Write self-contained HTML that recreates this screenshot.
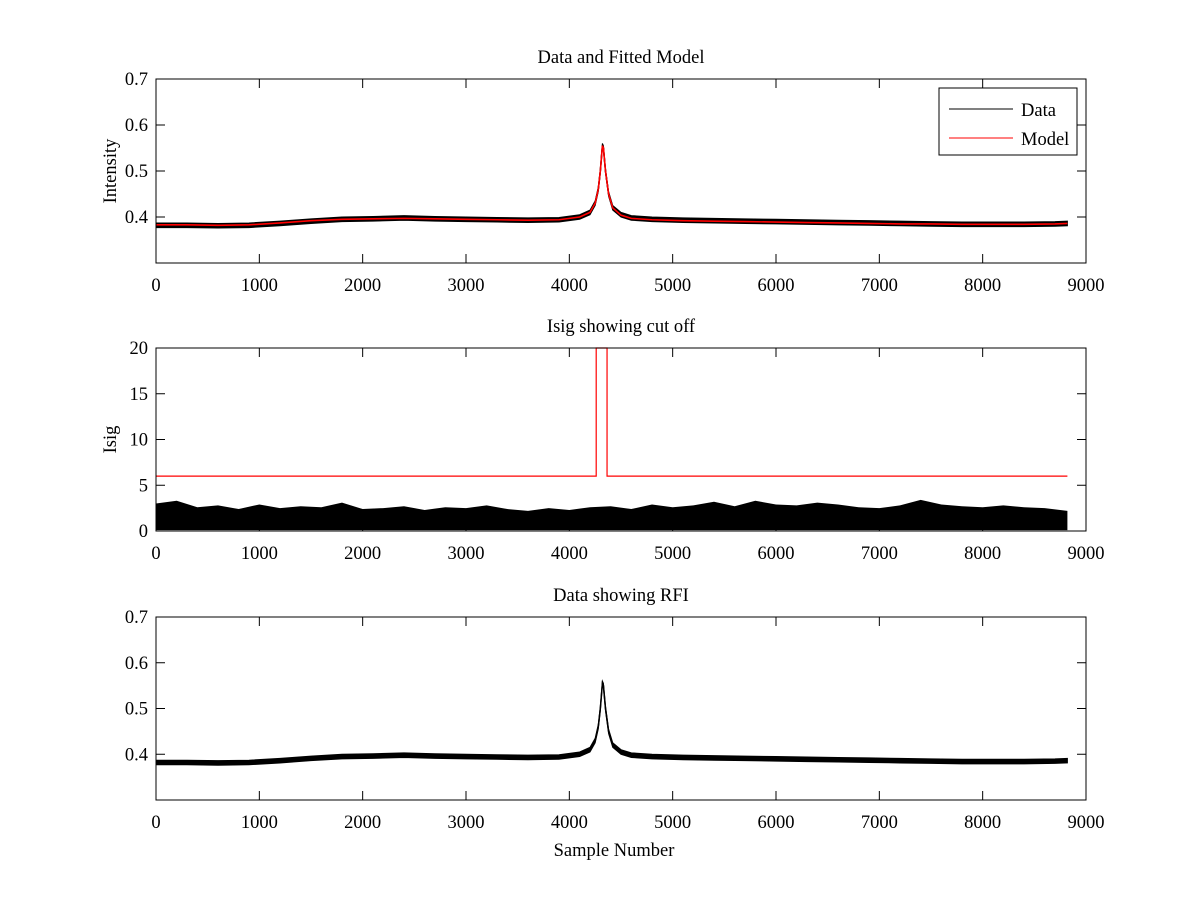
<!DOCTYPE html>
<html><head><meta charset="utf-8"><style>
body{margin:0;background:#fff;}
svg text{font-family:"Liberation Serif",serif;font-size:18.5px;fill:#000;}
</style></head><body>
<svg id="fig" width="1200" height="900" xmlns="http://www.w3.org/2000/svg"></svg>
<script>
// ---- data ----
const sampleX = [0,300,600,900,1200,1500,1800,2100,2400,2700,3000,3300,3600,3900,4100,4200,4250,4280,4300,4320,4330,4350,4380,4420,4500,4600,4800,5100,5400,5700,6000,6300,6600,6900,7200,7500,7800,8100,8400,8700,8820];
const dataVals = [0.382,0.382,0.381,0.382,0.386,0.391,0.395,0.396,0.398,0.396,0.395,0.394,0.393,0.394,0.400,0.41,0.43,0.46,0.50,0.555,0.55,0.50,0.45,0.42,0.405,0.398,0.395,0.393,0.392,0.391,0.390,0.389,0.388,0.387,0.386,0.385,0.384,0.384,0.384,0.385,0.386];
const modelVals = [0.383,0.383,0.382,0.383,0.387,0.392,0.395,0.396,0.397,0.396,0.395,0.394,0.393,0.394,0.400,0.41,0.43,0.46,0.50,0.555,0.55,0.50,0.45,0.42,0.404,0.397,0.394,0.392,0.391,0.390,0.389,0.388,0.387,0.386,0.385,0.385,0.384,0.384,0.384,0.385,0.386];
const noiseHalf = 0.005;
const isigX = [0,200,400,600,800,1000,1200,1400,1600,1800,2000,2200,2400,2600,2800,3000,3200,3400,3600,3800,4000,4200,4400,4600,4800,5000,5200,5400,5600,5800,6000,6200,6400,6600,6800,7000,7200,7400,7600,7800,8000,8200,8400,8600,8820];
const isigUpper = [3.0,3.3,2.6,2.8,2.4,2.9,2.5,2.7,2.6,3.1,2.4,2.5,2.7,2.3,2.6,2.5,2.8,2.4,2.2,2.5,2.3,2.6,2.7,2.4,2.9,2.6,2.8,3.2,2.7,3.3,2.9,2.8,3.1,2.9,2.6,2.5,2.8,3.4,2.9,2.7,2.6,2.8,2.6,2.5,2.2];
const cutLevel = 6;
const cutStart = 4260, cutEnd = 4365;
const xTicks = [0,1000,2000,3000,4000,5000,6000,7000,8000,9000];
const yTicksInt = [0.4,0.5,0.6,0.7];
const yTicksIsig = [0,5,10,15,20];

const NS="http://www.w3.org/2000/svg";
const svg=document.getElementById('fig');
function mk(tag,attrs,parent){const e=document.createElementNS(NS,tag);for(const k in attrs)e.setAttribute(k,attrs[k]);(parent||svg).appendChild(e);return e;}

const L=156,R=1086;
function xs(v){return L+(v/9000)*(R-L);}
function panel(name,top,bot,ymin,ymax,yTicks,title,ylabel){
  const g=mk('g',{});
  
  
  const ys=v=>bot-(v-ymin)/(ymax-ymin)*(bot-top);
  mk('rect',{x:L,y:top,width:R-L,height:bot-top,fill:'#fff',stroke:'none'},g);
  xTicks.forEach(t=>{const x=xs(t);
    mk('line',{x1:x,y1:bot,x2:x,y2:bot-9,stroke:'#000'},g);
    mk('line',{x1:x,y1:top,x2:x,y2:top+9,stroke:'#000'},g);
    const tx=mk('text',{x:x,y:bot+28,'text-anchor':'middle'},g);tx.textContent=t;
    
    
  });
  yTicks.forEach(t=>{const y=ys(t);
    mk('line',{x1:L,y1:y,x2:L+9,y2:y,stroke:'#000'},g);
    mk('line',{x1:R,y1:y,x2:R-9,y2:y,stroke:'#000'},g);
    const tx=mk('text',{x:L-8,y:y+6,'text-anchor':'end'},g);tx.textContent=t;
    
    
  });
  const tt=mk('text',{x:(L+R)/2,y:top-16,'text-anchor':'middle'},g);tt.textContent=title;
  
  
  const yl=mk('text',{x:0,y:0,'text-anchor':'middle',transform:`translate(${L-40},${(top+bot)/2}) rotate(-90)`},g);yl.textContent=ylabel;
  
  
  return {g,ys,top,bot};
}
function band(p,vals,name){
  let up=sampleX.map((s,i)=>xs(s)+','+p.ys(vals[i]+noiseHalf));
  let dn=sampleX.map((s,i)=>xs(s)+','+p.ys(vals[i]-noiseHalf)).reverse();
  const e=mk('polygon',{points:up.concat(dn).join(' '),fill:'#000',stroke:'#000','stroke-width':1},p.g);
  
  
}
function line(p,vals,color,name,w){
  const e=mk('polyline',{points:sampleX.map((s,i)=>xs(s)+','+p.ys(vals[i])).join(' '),fill:'none',stroke:color,'stroke-width':w},p.g);
  
  
}
function frame(p){mk('rect',{x:L,y:p.top,width:R-L,height:p.bot-p.top,fill:'none',stroke:'#000'},p.g);}

// Panel 1
const p1=panel('panel-data-model',79,263,0.3,0.7,yTicksInt,'Data and Fitted Model','Intensity');
band(p1,dataVals,'data-series');
line(p1,dataVals,'#000','data-center',1.5);
line(p1,modelVals,'#f00','model-series',1.6);
frame(p1);
// legend
const lg=mk('g',{});


mk('rect',{x:939,y:88,width:138,height:67,fill:'#fff',stroke:'#000'},lg);
mk('line',{x1:949,y1:109,x2:1013,y2:109,stroke:'#000'},lg);
let t=mk('text',{x:1021,y:116},lg);t.textContent='Data';
mk('line',{x1:949,y1:138,x2:1013,y2:138,stroke:'#f00'},lg);
t=mk('text',{x:1021,y:145},lg);t.textContent='Model';

// Panel 2
const p2=panel('panel-isig',348,531,0,20,yTicksIsig,'Isig showing cut off','Isig');
const ip=isigX.map((s,i)=>xs(s)+','+p2.ys(isigUpper[i]));
const isig=mk('polygon',{points:[xs(0)+','+p2.ys(0.1)].concat(ip,[xs(8820)+','+p2.ys(0.1)]).join(' '),fill:'#000'},p2.g);


const cut=mk('polyline',{points:[xs(0),p2.ys(cutLevel),xs(cutStart),p2.ys(cutLevel),xs(cutStart),p2.top,xs(cutEnd),p2.top,xs(cutEnd),p2.ys(cutLevel),xs(8820),p2.ys(cutLevel)].join(' '),fill:'none',stroke:'#f00','stroke-width':1.2},p2.g);


frame(p2);

// Panel 3
const p3=panel('panel-rfi',617,800,0.3,0.7,yTicksInt,'Data showing RFI','');
band(p3,dataVals,'rfi-data-series');
line(p3,dataVals,'#000','rfi-data-center',1.5);
frame(p3);
const xl=mk('text',{x:(L+R)/2-7,y:856,'text-anchor':'middle'});xl.textContent='Sample Number';


</script>
</body></html>
